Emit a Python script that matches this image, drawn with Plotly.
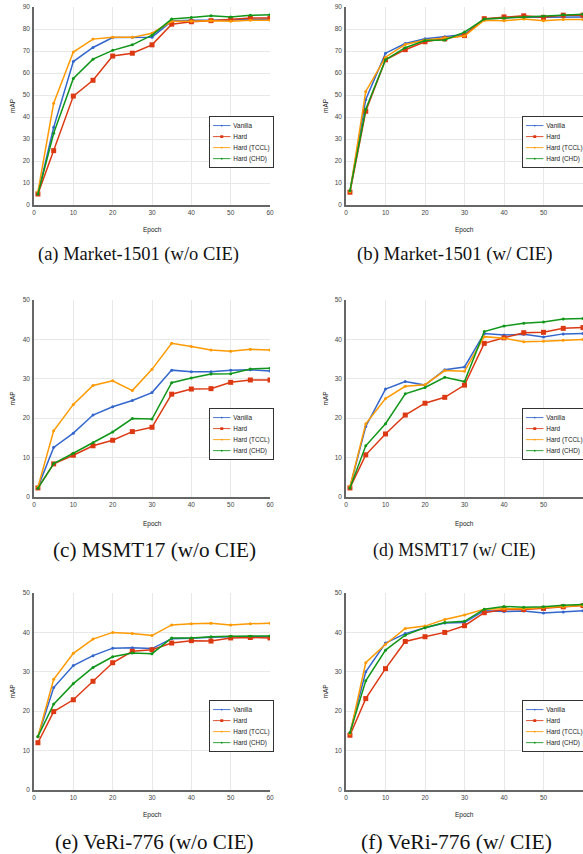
import json
import plotly.graph_objects as go

epochs = [1, 5, 10, 15, 20, 25, 30, 35, 40, 45, 50, 55, 60]
series_names = ["Vanilla", "Hard", "Hard (TCCL)", "Hard (CHD)"]

# (a) Market-1501 (w/o CIE)
a_vanilla = [5, 35.3, 65.2, 71.6, 76.1, 76.3, 76.3, 83.6, 84.0, 84.0, 84.1, 84.5, 84.5]
a_hard    = [5, 24.7, 49.5, 56.7, 67.7, 69.0, 72.8, 82.2, 83.3, 83.8, 84.5, 85.0, 85.0]
a_tccl    = [6, 46.3, 69.5, 75.4, 76.2, 76.2, 78.1, 83.5, 83.5, 83.7, 83.5, 84.0, 84.0]
a_chd     = [5, 32.6, 57.5, 66.3, 70.3, 72.8, 77.2, 84.5, 85.2, 86.0, 85.5, 86.2, 86.5]

# (b) Market-1501 (w/ CIE)
b_vanilla = [6, 48.0, 69.0, 73.4, 75.6, 76.5, 77.5, 84.5, 85.0, 85.5, 85.3, 85.5, 85.5]
b_hard    = [5.8, 42.6, 66.0, 70.6, 74.2, 75.5, 77.0, 84.7, 85.5, 86.0, 85.3, 86.3, 86.3]
b_tccl    = [6, 51.6, 67.2, 73.0, 75.0, 76.0, 76.8, 84.0, 83.7, 84.5, 83.8, 84.3, 84.3]
b_chd     = [6.5, 43.5, 66.0, 71.5, 74.8, 75.0, 78.6, 84.5, 85.0, 85.5, 85.8, 86.5, 86.7]

# (c) MSMT17 (w/o CIE)
c_vanilla = [2.5, 12.6, 16.2, 20.8, 22.9, 24.5, 26.5, 32.2, 31.8, 31.8, 32.2, 32.3, 32.0]
c_hard    = [2.3, 8.4, 10.6, 13.0, 14.4, 16.6, 17.7, 26.1, 27.4, 27.5, 29.1, 29.7, 29.7]
c_tccl    = [2.5, 16.8, 23.5, 28.3, 29.5, 27.0, 32.4, 39.0, 38.2, 37.3, 37.0, 37.5, 37.3]
c_chd     = [2.2, 8.5, 11.1, 13.8, 16.5, 19.9, 19.8, 29.0, 30.2, 31.2, 31.3, 32.5, 32.7]

# (d) MSMT17 (w/ CIE)
d_vanilla = [2.5, 17.9, 27.4, 29.3, 28.4, 32.3, 33.0, 41.5, 41.1, 41.3, 40.6, 41.4, 41.5]
d_hard    = [2.3, 10.7, 16.0, 20.8, 23.8, 25.3, 28.4, 39.0, 40.4, 41.7, 41.8, 42.8, 43.0]
d_tccl    = [2.6, 18.6, 25.0, 28.1, 28.5, 32.1, 31.9, 40.7, 40.3, 39.4, 39.5, 39.8, 40.0]
d_chd     = [2.3, 13.0, 18.6, 26.2, 27.8, 30.4, 29.3, 42.0, 43.4, 44.1, 44.4, 45.2, 45.3]

# (e) VeRi-776 (w/o CIE)
e_vanilla = [13.5, 26.0, 31.6, 34.1, 36.0, 36.1, 35.9, 38.4, 38.5, 38.8, 38.9, 38.9, 38.9]
e_hard    = [12.0, 19.9, 22.9, 27.6, 32.3, 35.2, 35.6, 37.3, 37.9, 37.8, 38.6, 38.7, 38.6]
e_tccl    = [13.5, 28.1, 34.7, 38.3, 40.0, 39.7, 39.2, 41.9, 42.2, 42.3, 41.9, 42.2, 42.3]
e_chd     = [13.6, 21.8, 27.0, 31.1, 33.8, 34.8, 34.6, 38.6, 38.6, 38.9, 39.0, 39.0, 39.1]

# (f) VeRi-776 (w/ CIE)
f_vanilla = [14.5, 30.0, 37.3, 39.7, 41.2, 42.4, 42.5, 45.5, 45.3, 45.4, 44.9, 45.2, 45.5]
f_hard    = [13.9, 23.2, 30.8, 37.7, 38.9, 40.0, 41.7, 45.0, 45.8, 45.8, 46.1, 46.5, 46.8]
f_tccl    = [14.2, 32.3, 37.0, 41.0, 41.6, 43.3, 44.4, 45.9, 46.0, 46.0, 46.3, 46.5, 46.8]
f_chd     = [14.5, 27.7, 35.5, 39.3, 41.2, 42.5, 42.8, 45.9, 46.6, 46.4, 46.5, 46.9, 47.1]

captions = ["(a) Market-1501 (w/o CIE)", "(b) Market-1501 (w/ CIE)",
            "(c) MSMT17 (w/o CIE)", "(d) MSMT17 (w/ CIE)",
            "(e) VeRi-776 (w/o CIE)", "(f) VeRi-776 (w/ CIE)"]
y_max = [90, 90, 50, 50, 50, 50]
x_ticks = [0, 10, 20, 30, 40, 50, 60]

panels = [
    [a_vanilla, a_hard, a_tccl, a_chd],
    [b_vanilla, b_hard, b_tccl, b_chd],
    [c_vanilla, c_hard, c_tccl, c_chd],
    [d_vanilla, d_hard, d_tccl, d_chd],
    [e_vanilla, e_hard, e_tccl, e_chd],
    [f_vanilla, f_hard, f_tccl, f_chd],
]

W, H = 583, 854
colors = ["#3366cc", "#dc3912", "#ff9900", "#109618"]
msymbols = ["circle", "square", "circle", "circle"]
msizes = [3, 5, 3, 3]

# layout geometry (pixels)
col_x = [(34, 270), (346, 583)]
row_y = [(7, 205), (300, 497), (593, 790)]
epoch_y = [230, 524, 815]
cap_y = [254, 550, 842]
cap_x = [138, 455, 154, 455, 154, 456]
cap_size = [18.5, 18.8, 21.2, 17.8, 21.0, 21.6]
map_x = [12, 325]
leg_left = [209, 522]
leg_top = [116, 408, 700]
leg_scale = 0.58

def px(x):
    return x / W

def py(y):
    return 1 - y / H

fig = go.Figure()
layout = dict(
    width=W, height=H,
    margin=dict(l=0, r=0, t=0, b=0, autoexpand=False),
    paper_bgcolor="white", plot_bgcolor="white",
    showlegend=True,
    annotations=[],
)

tickfont = dict(family="Liberation Sans, Arial", size=6.5, color="#444")
leg_pos = {}
for i in range(6):
    r, c = divmod(i, 2)
    sfx = "" if i == 0 else str(i + 1)
    legname = "legend" + sfx
    for k in range(4):
        fig.add_trace(go.Scatter(
            x=epochs, y=panels[i][k], name=series_names[k],
            mode="lines+markers",
            line=dict(color=colors[k], width=1.5),
            marker=dict(color=colors[k], size=msizes[k], symbol=msymbols[k]),
            xaxis="x" + sfx, yaxis="y" + sfx, legend=legname,
        ))
    x0, x1 = col_x[c]
    y0, y1 = row_y[r]
    layout["xaxis" + sfx] = dict(
        domain=[px(x0), px(x1)], anchor="y" + sfx, range=[0, 60],
        tickvals=x_ticks, showgrid=True, gridcolor="#e8e8e8", gridwidth=1,
        showline=True, linecolor="#666", linewidth=1.5, zeroline=False,
        ticks="", tickfont=tickfont, fixedrange=True,
    )
    layout["yaxis" + sfx] = dict(
        domain=[py(y1), py(y0)], anchor="x" + sfx, range=[0, y_max[i]],
        dtick=10, showgrid=True, gridcolor="#e8e8e8", gridwidth=1,
        showline=True, linecolor="#666", linewidth=1.5, zeroline=False,
        ticks="", tickfont=tickfont, ticklabelstandoff=1, fixedrange=True,
    )
    layout[legname] = dict(
        font=dict(family="Liberation Sans, Arial", size=11, color="#222"),
        bordercolor="#333", borderwidth=2, bgcolor="white",
        itemwidth=30, xanchor="left", yanchor="top",
        x=px(leg_left[0] if c == 0 else 400), y=py(leg_top[r]),
        xref="paper", yref="paper",
    )
    leg_pos[legname] = [leg_left[c], leg_top[r]]

    layout["annotations"].append(dict(
        text="Epoch", x=px((x0 + x1) / 2), y=py(epoch_y[r]), xref="paper", yref="paper",
        showarrow=False, font=dict(family="Liberation Sans, Arial", size=6.5, color="#222"),
        xanchor="center", yanchor="middle"))
    layout["annotations"].append(dict(
        text="mAP", x=px(map_x[c]), y=py((y0 + y1) / 2), xref="paper", yref="paper",
        showarrow=False, textangle=-90,
        font=dict(family="Liberation Sans, Arial", size=6.5, color="#222"),
        xanchor="center", yanchor="middle"))
    layout["annotations"].append(dict(
        text=captions[i], x=px(cap_x[i]), y=py(cap_y[r]), xref="paper", yref="paper",
        showarrow=False, font=dict(family="Liberation Serif, Times New Roman", size=cap_size[i], color="#111"),
        xanchor="center", yanchor="middle"))

fig.update_layout(**layout)

post_js = (
    "document.body.style.margin='0px';"
    "var gd=document.getElementById('{plot_id}');"
    "var P=" + json.dumps(leg_pos) + ";"
    "Object.keys(P).forEach(function(k){"
    "var g=gd.querySelector('g.infolayer > g.'+k);"
    "if(g){g.setAttribute('transform','translate('+P[k][0]+','+P[k][1]+') scale(" + str(leg_scale) + ")');}"
    "});"
)
fig.write_html("out.html", post_script=post_js, config={"displayModeBar": False})
